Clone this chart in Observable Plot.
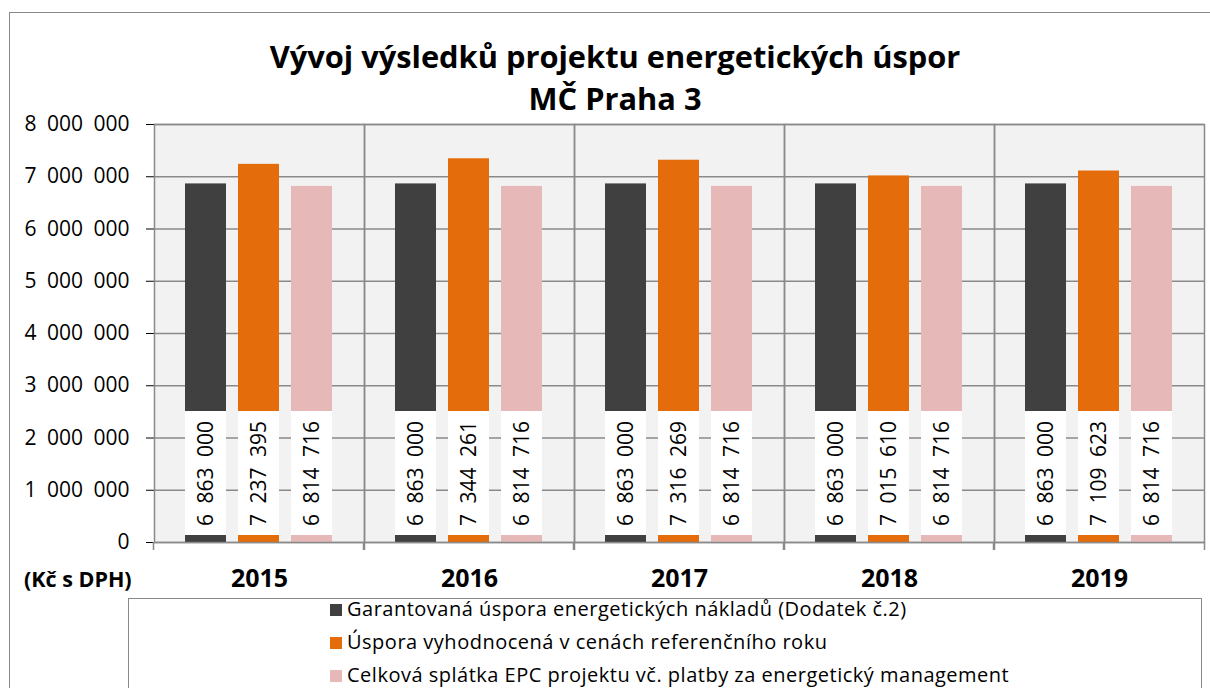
<!DOCTYPE html>
<html>
<head>
<meta charset="utf-8">
<script src="https://cdn.jsdelivr.net/npm/d3@7"></script>
<script src="https://cdn.jsdelivr.net/npm/@observablehq/plot@0.6"></script>
<style>
  html, body { margin: 0; padding: 0; background: #fff; }
  #wrap { position: relative; width: 1210px; height: 688px; overflow: hidden; font-family: "Open Sans", sans-serif; color: #000; }
  #border { position: absolute; left: 9px; top: 12px; width: 1260px; height: 760px; border: 1.5px solid #8a8a8a; box-sizing: border-box; }
  #title { position: absolute; left: 9px; width: 1212px; top: 35px; text-align: center; font-weight: bold; font-size: 30.8px; line-height: 42px; }
  #chart { position: absolute; left: 0; top: 0; }
  #unit { position: absolute; left: 24px; top: 564px; font-weight: bold; font-size: 21.5px; }
  #legend { position: absolute; left: 128px; top: 598px; width: 1074px; height: 140px; border: 1.5px solid #8a8a8a; box-sizing: border-box; background: #fff; }
  .item { position: absolute; left: 201px; font-size: 20px; letter-spacing: 0.5px; white-space: nowrap; line-height: 22px; }
  .sw { display: inline-block; width: 12px; height: 12px; margin-right: 5px; vertical-align: 0px; }
  #chart svg [aria-label^="y-axis"] text { font-size: 21px; }
  #chart svg [aria-label^="fx-axis"] text { font-size: 25px; font-weight: bold; }
</style>
</head>
<body>
<div id="wrap">
  <div id="border"></div>
  <div id="chart"></div>
  <div id="title">Vývoj výsledků projektu energetických úspor<br>MČ Praha 3</div>
  <div id="unit">(Kč s DPH)</div>
  <div id="legend"></div>
</div>
<script>
const years = ["2015", "2016", "2017", "2018", "2019"];
const seriesNames = [
  "Garantovaná úspora energetických nákladů (Dodatek č.2)",
  "Úspora vyhodnocená v cenách referenčního roku",
  "Celková splátka EPC projektu vč. platby za energetický management"
];
const colors = ["#404040", "#e46c0a", "#e6b9b8"];
const garantovana = [6863000, 6863000, 6863000, 6863000, 6863000];
const uspora = [7237395, 7344261, 7316269, 7015610, 7109623];
const splatka = [6814716, 6814716, 6814716, 6814716, 6814716];
const yTicks = [0, 1000000, 2000000, 3000000, 4000000, 5000000, 6000000, 7000000, 8000000];

const seriesValues = [garantovana, uspora, splatka];
const rows = [];
years.forEach((yr, i) => {
  seriesNames.forEach((s, j) => rows.push({year: yr, series: s, value: seriesValues[j][i]}));
});

const SP = "\u2002";
const fmt = v => d3.format(",")(v).replace(/,/g, SP);

const plot = Plot.plot({
  width: 1210,
  height: 598,
  marginLeft: 153,
  marginRight: 5,
  marginTop: 124,
  marginBottom: 56,
  style: {background: "transparent", fontFamily: "Open Sans, sans-serif", color: "#000", overflow: "visible"},
  facet: {data: rows, x: "year"},
  fx: {domain: years, padding: 0, axis: "bottom", tickSize: 0, tickPadding: 27, label: null},
  x: {domain: seriesNames, paddingInner: 0.226, paddingOuter: 0.594, axis: null},
  y: {domain: [0, 8000000], ticks: yTicks, tickFormat: fmt, tickSize: 8, tickPadding: 17, label: null},
  color: {domain: seriesNames, range: colors},
  marks: [
    Plot.frame({fill: "#f2f2f2"}),
    Plot.ruleY(yTicks, {stroke: "#8a8a8a", strokeWidth: 1.5}),
    Plot.barY(rows, {x: "series", y: "value", fill: "series"}),
    Plot.barY(rows, {x: "series", y1: d => 0, y2: d => 0, fill: "#fff", insetTop: -131, insetBottom: 7}),
    Plot.text(rows, {x: "series", y: d => 0, text: d => fmt(d.value), rotate: -90, dy: -69, fontSize: 21, fill: "#000"}),
    Plot.frame({stroke: "#8a8a8a", strokeWidth: 1.5}),
    Plot.ruleX([seriesNames[0]], {x: d => d, y1: d => 0, y2: d => 0, insetBottom: -8, dx: -52.5, stroke: "#8a8a8a", strokeWidth: 1.5}),
    Plot.ruleX([seriesNames[2]], {x: d => d, y1: d => 0, y2: d => 0, insetBottom: -8, dx: 52.5, stroke: "#8a8a8a", strokeWidth: 1.5})
  ]
});
document.getElementById("chart").appendChild(plot);

const legend = document.getElementById("legend");
const rowTops = [-1, 32, 65];
seriesNames.forEach((s, j) => {
  const el = document.createElement("div");
  el.className = "item";
  el.style.top = rowTops[j] + "px";
  el.innerHTML = `<span class="sw" style="background:${colors[j]}"></span>${s}`;
  legend.appendChild(el);
});
</script>
</body>
</html>
